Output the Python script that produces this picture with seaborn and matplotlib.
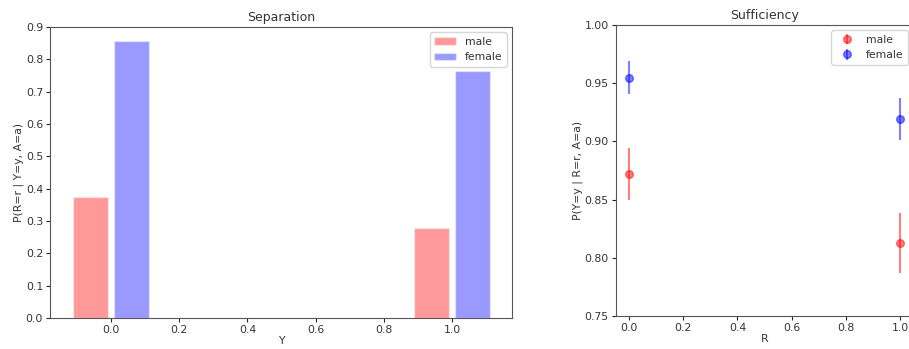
import numpy as np
import pandas as pd
import matplotlib
matplotlib.use("Agg")
import matplotlib.pyplot as plt
import seaborn as sns

# separation: P(R=r | Y=y, A=a)
y_vals = [0.0, 0.0, 1.0, 1.0]
groups = ["male", "female", "male", "female"]
sep_prob = [0.374, 0.857, 0.278, 0.764]

# sufficiency: P(Y=y | R=r, A=a) with error bars
r_vals = [0.0, 1.0]
suff_male = [0.872, 0.8125]
suff_male_err = [0.0225, 0.0257]
suff_female = [0.9547, 0.919]
suff_female_err = [0.014, 0.018]

colors = {"male": "red", "female": "blue"}

sns.set_style("ticks")
plt.rcParams.update({"font.size": 7.8, "axes.titlesize": 9, "axes.labelsize": 7.8,
                     "xtick.labelsize": 7.8, "ytick.labelsize": 7.8,
                     "axes.edgecolor": "#555555", "xtick.major.size": 3,
                     "ytick.major.size": 3, "xtick.major.pad": 2,
                     "ytick.major.pad": 2, "axes.labelpad": 1,
                     "text.color": "#333333", "axes.labelcolor": "#333333",
                     "xtick.labelcolor": "#333333", "ytick.labelcolor": "#333333"})

fig = plt.figure(figsize=(9.09, 3.49), dpi=100)
ax1 = fig.add_axes([50 / 909, 1 - 318 / 349, 462 / 909, 291 / 349])
ax2 = fig.add_axes([615.5 / 909, 1 - 316 / 349, 298 / 909, 291 / 349])

df = pd.DataFrame({"Y": y_vals, "A": groups, "p": sep_prob})
sns.barplot(data=df, x="Y", y="p", hue="A", native_scale=True, palette=colors,
            width=0.24, gap=0.15, saturation=1, alpha=0.4, edgecolor="white",
            linewidth=1, errorbar=None, ax=ax1)
ax1.set_xlim(-0.179, 1.176)
ax1.set_ylim(0, 0.9)
ax1.set_xticks([0.0, 0.2, 0.4, 0.6, 0.8, 1.0])
ax1.set_xticklabels(["0.0", "0.2", "0.4", "0.6", "0.8", "1.0"])
ax1.set_yticks(np.arange(0, 0.91, 0.1))
ax1.set_yticklabels([f"{v:.1f}" for v in np.arange(0, 0.91, 0.1)])
ax1.set_xlabel("Y")
ax1.set_ylabel("P(R=r | Y=y, A=a)")
ax1.set_title("Separation", pad=4)
ax1.legend(loc="upper right")

ax2.errorbar(r_vals, suff_male, yerr=suff_male_err, fmt="o", color="red",
             alpha=0.5, markersize=5.5, label="male")
ax2.errorbar(r_vals, suff_female, yerr=suff_female_err, fmt="o", color="blue",
             alpha=0.5, markersize=5.5, label="female")
ax2.set_xlim(-0.05, 1.05)
ax2.set_ylim(0.75, 1.0)
ax2.set_xticks([0.0, 0.2, 0.4, 0.6, 0.8, 1.0])
ax2.set_yticks([0.75, 0.80, 0.85, 0.90, 0.95, 1.00])
ax2.set_yticklabels(["0.75", "0.80", "0.85", "0.90", "0.95", "1.00"])
ax2.set_xlabel("R")
ax2.set_ylabel("P(Y=y | R=r, A=a)")
ax2.set_title("Sufficiency", pad=4)
ax2.legend(loc="upper right")

fig.savefig("out.png", dpi=100)
